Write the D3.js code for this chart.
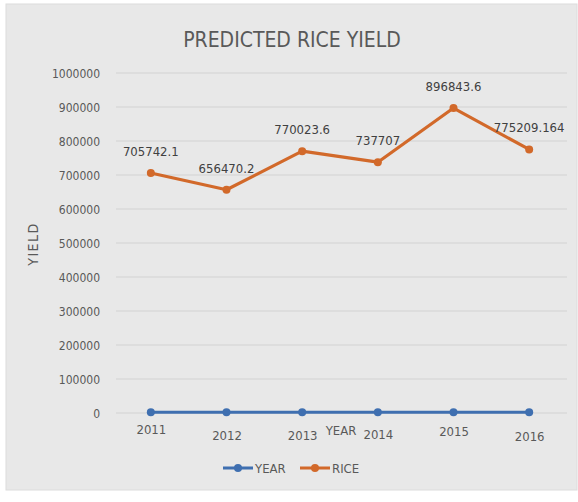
<!DOCTYPE html>
<html><head><meta charset="utf-8">
<script src="https://cdn.jsdelivr.net/npm/d3@7"></script>
<style>
body{margin:0;background:#fff;}
text{font-family:"Liberation Sans Narrow","DejaVu Sans Condensed","Roboto",sans-serif;}
</style></head>
<body><svg id="c" width="578" height="502"></svg>
<script>
const years = ["2011","2012","2013","2014","2015","2016"];
const rice = [705742.1, 656470.2, 770023.6, 737707, 896843.6, 775209.164];
const riceLabels = ["705742.1","656470.2","770023.6","737707","896843.6","775209.164"];
const yearSeries = [2011, 2012, 2013, 2014, 2015, 2016];
const yTicks = [0,100000,200000,300000,400000,500000,600000,700000,800000,900000,1000000];
const labelDy = [0, 6, 6, 5, 2, 7];

const svg = d3.select("#c");
const m={left:113,right:567,top:73,bottom:413};
const blue="#3f6fb0", orange="#d2692a", txt="#595959";

svg.append("rect").attr("x",6).attr("y",4).attr("width",571).attr("height",486)
  .attr("fill","#e8e8e8").attr("stroke","#dcdcdc");

const x = d3.scalePoint().domain(years).range([m.left,m.right]).padding(0.5);
const y = d3.scaleLinear().domain([0,1000000]).range([m.bottom,m.top]);

// gridlines
svg.append("g").selectAll("line").data(yTicks).join("line")
  .attr("x1",116).attr("x2",m.right).attr("y1",d=>y(d)).attr("y2",d=>y(d))
  .attr("stroke","#d2d2d2").attr("stroke-width",1.2);

// y axis labels
const yAxis = d3.axisLeft(y).tickValues(yTicks).tickSize(0).tickPadding(0).tickFormat(d3.format("d"));
const ga = svg.append("g").attr("transform","translate(100,0)").call(yAxis);
ga.select(".domain").remove();
ga.selectAll("text").attr("fill",txt).style("font-size","12px").attr("dy","0.35em");

// x axis labels
const xAxis = d3.axisBottom(x).tickSize(0).tickPadding(0);
const gx = svg.append("g").attr("transform","translate(0,424)").call(xAxis);
gx.select(".domain").remove();
gx.selectAll("text").attr("fill",txt).style("font-size","13px")
  .attr("dy",(d,i)=>(labelDy[i]+10)+"px");

// titles
svg.append("text").attr("x",292).attr("y",47).attr("text-anchor","middle")
  .attr("fill",txt).style("font-size","21px").text("PREDICTED RICE YIELD");
svg.append("text").attr("transform","translate(38,244) rotate(-90)").attr("text-anchor","middle")
  .attr("fill",txt).style("font-size","14px").style("letter-spacing","1.5px").text("YIELD");
svg.append("text").attr("x",341).attr("y",435).attr("text-anchor","middle")
  .attr("fill",txt).style("font-size","13px").text("YEAR");

// YEAR series (values are years, ~0 on this scale)
const line = d3.line().x((d,i)=>x(years[i])).y(d=>y(d));
svg.append("path").datum(yearSeries).attr("d",line).attr("fill","none")
  .attr("stroke",blue).attr("stroke-width",3);
svg.append("g").selectAll("circle").data(yearSeries).join("circle")
  .attr("cx",(d,i)=>x(years[i])).attr("cy",d=>y(d)).attr("r",4).attr("fill",blue);

// RICE series
svg.append("path").datum(rice).attr("d",line).attr("fill","none")
  .attr("stroke",orange).attr("stroke-width",3.2).attr("stroke-linejoin","round");
svg.append("g").selectAll("circle").data(rice).join("circle")
  .attr("cx",(d,i)=>x(years[i])).attr("cy",d=>y(d)).attr("r",4).attr("fill",orange);
svg.append("g").selectAll("text").data(rice).join("text")
  .attr("x",(d,i)=>x(years[i])).attr("y",d=>y(d)-17).attr("text-anchor","middle")
  .attr("fill","#404040").style("font-size","13px").text((d,i)=>riceLabels[i]);

// legend
const leg=[{n:"YEAR",c:blue,x:223},{n:"RICE",c:orange,x:300}];
const lg=svg.append("g").selectAll("g").data(leg).join("g").attr("transform",d=>`translate(${d.x},468)`);
lg.append("line").attr("x1",0).attr("x2",30).attr("stroke",d=>d.c).attr("stroke-width",3);
lg.append("circle").attr("cx",15).attr("r",4).attr("fill",d=>d.c);
lg.append("text").attr("x",32).attr("dy","0.35em").attr("fill",txt).style("font-size","13px").text(d=>d.n);
</script></body></html>
